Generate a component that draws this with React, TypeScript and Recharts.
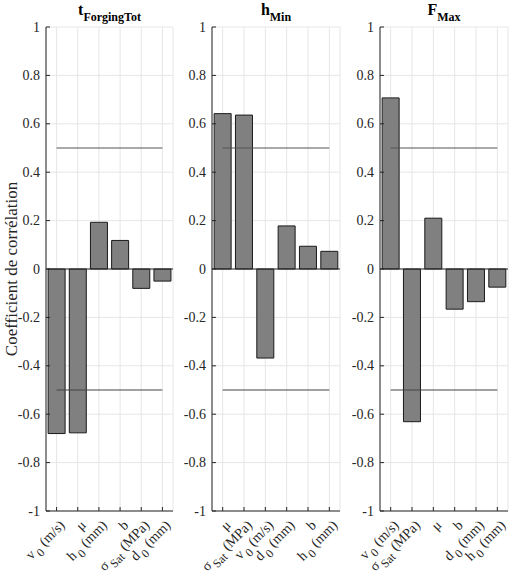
import React from "react";
import { BarChart, Bar, XAxis, YAxis, CartesianGrid, ReferenceLine } from "recharts";

// Correlation coefficients per output, in the order the bars appear.
const paramsForging = ["v0", "mu", "h0", "b", "sSat", "d0"];
const valuesForging = [-0.68, -0.677, 0.193, 0.118, -0.08, -0.05];

const paramsHMin = ["mu", "sSat", "v0", "d0", "b", "h0"];
const valuesHMin = [0.642, 0.636, -0.368, 0.178, 0.094, 0.073];

const paramsFMax = ["v0", "sSat", "mu", "b", "d0", "h0"];
const valuesFMax = [0.707, -0.631, 0.21, -0.166, -0.135, -0.075];

const yTicks = [-1, -0.8, -0.6, -0.4, -0.2, 0, 0.2, 0.4, 0.6, 0.8, 1];
const threshold = 0.5;

// Tick label pieces: base symbol, subscript, unit
const LABELS: Record<string, { base: string; sub?: string; unit?: string }> = {
  v0: { base: "v", sub: "0", unit: "(m/s)" },
  mu: { base: "μ" },
  h0: { base: "h", sub: "0", unit: "(mm)" },
  b: { base: "b" },
  sSat: { base: "σ", sub: "Sat", unit: "(MPa)" },
  d0: { base: "d", sub: "0", unit: "(mm)" },
};

const FONT = "'Liberation Serif', 'DejaVu Serif', serif";
const AXIS = "#262626";
const GRID = "#e6e6e6";

function XTickBottom(props: any) {
  const { x, y, payload } = props;
  const lab = LABELS[payload.value] || { base: String(payload.value) };
  return (
    <g>
      <line x1={x} y1={y} x2={x} y2={y - 4} stroke={AXIS} />
      <text
        transform={`translate(${x + 9},${y + 15}) rotate(-45)`}
        textAnchor="end"
        fontFamily={FONT}
        fontSize={14}
        fill={AXIS}
      >
        <tspan>{lab.base}</tspan>
        {lab.sub && (
          <tspan dx={2} dy={5} fontSize={12}>
            {lab.sub}
          </tspan>
        )}
        {lab.unit && (
          <tspan dx={4} dy={-5}>
            {lab.unit}
          </tspan>
        )}
      </text>
    </g>
  );
}

function XTickTop(props: any) {
  const { x, y } = props;
  return <line x1={x} y1={y} x2={x} y2={y + 4} stroke={AXIS} />;
}

function YTickLeft(props: any) {
  const { x, y, payload } = props;
  return (
    <g>
      <line x1={x} y1={y} x2={x + 4} y2={y} stroke={AXIS} />
      <text
        x={x - 6}
        y={y}
        dy={4.5}
        textAnchor="end"
        fontFamily={FONT}
        fontSize={14}
        fill={AXIS}
      >
        {String(payload.value)}
      </text>
    </g>
  );
}

function YTickRight(props: any) {
  const { x, y } = props;
  return <line x1={x} y1={y} x2={x - 4} y2={y} stroke={AXIS} />;
}

function Panel({
  params,
  values,
  left,
  plotWidth,
  title,
  sub,
}: {
  params: string[];
  values: number[];
  left: number;
  plotWidth: number;
  title: string;
  sub: string;
}) {
  const data = params.map((p, i) => ({ name: p, value: values[i] }));
  const yAxisW = 40;
  return (
    <>
      <div
        style={{
          position: "absolute",
          left: left,
          top: 1,
          width: plotWidth,
          textAlign: "center",
          fontFamily: FONT,
          fontWeight: "bold",
          fontSize: 16,
          lineHeight: "18px",
          color: "#000",
          whiteSpace: "nowrap",
        }}
      >
        {title}
        <span style={{ fontSize: 12, position: "relative", top: 6 }}>{sub}</span>
      </div>
      <div style={{ position: "absolute", left: left - yAxisW, top: 0 }}>
        <BarChart
          width={yAxisW + plotWidth + 2}
          height={573}
          data={data}
          margin={{ top: 27, right: 2, bottom: 0, left: 0 }}
          barCategoryGap="10%"
          style={{ overflow: "visible" }}
        >
          <CartesianGrid stroke={GRID} strokeWidth={1} />
          <XAxis
            dataKey="name"
            height={62}
            interval={0}
            tickSize={0}
            tickMargin={0}
            axisLine={{ stroke: AXIS }}
            tickLine={false}
            tick={(p: any) => <XTickBottom {...p} />}
          />
          <XAxis
            xAxisId="top"
            orientation="top"
            dataKey="name"
            height={0}
            interval={0}
            tickSize={0}
            tickMargin={0}
            axisLine={{ stroke: AXIS }}
            tickLine={false}
            tick={(p: any) => <XTickTop {...p} />}
          />
          <YAxis
            type="number"
            domain={[-1, 1]}
            ticks={yTicks}
            interval={0}
            width={yAxisW}
            tickSize={0}
            tickMargin={0}
            axisLine={{ stroke: AXIS }}
            tickLine={false}
            tick={(p: any) => <YTickLeft {...p} />}
          />
          <YAxis
            yAxisId="right"
            orientation="right"
            type="number"
            domain={[-1, 1]}
            ticks={yTicks}
            interval={0}
            width={0}
            tickSize={0}
            tickMargin={0}
            axisLine={{ stroke: AXIS }}
            tickLine={false}
            tick={(p: any) => <YTickRight {...p} />}
          />
          <Bar
            dataKey="value"
            fill="#808080"
            stroke="#1a1a1a"
            strokeWidth={1}
            isAnimationActive={false}
          />
          <ReferenceLine y={0} stroke={AXIS} strokeWidth={1.2} />
          <ReferenceLine
            segment={[
              { x: params[0], y: threshold },
              { x: params[params.length - 1], y: threshold },
            ]}
            stroke="#555"
            strokeWidth={1.2}
          />
          <ReferenceLine
            segment={[
              { x: params[0], y: -threshold },
              { x: params[params.length - 1], y: -threshold },
            ]}
            stroke="#444"
            strokeWidth={1.2}
          />
        </BarChart>
      </div>
    </>
  );
}

export default function App() {
  return (
    <div
      style={{
        position: "absolute",
        left: 0,
        top: 0,
        width: 513,
        height: 573,
        background: "#fff",
        overflow: "hidden",
      }}
    >
      <div
        style={{
          position: "absolute",
          left: 12 - 150,
          top: 269 - 10,
          width: 300,
          height: 20,
          lineHeight: "20px",
          textAlign: "center",
          transform: "rotate(-90deg)",
          fontFamily: FONT,
          fontSize: 17,
          color: AXIS,
          whiteSpace: "nowrap",
        }}
      >
        Coefficient de corrélation
      </div>
      <Panel params={paramsForging} values={valuesForging} left={46} plotWidth={127} title="t" sub="ForgingTot" />
      <Panel params={paramsHMin} values={valuesHMin} left={212} plotWidth={128} title="h" sub="Min" />
      <Panel params={paramsFMax} values={valuesFMax} left={380} plotWidth={128} title="F" sub="Max" />
    </div>
  );
}
